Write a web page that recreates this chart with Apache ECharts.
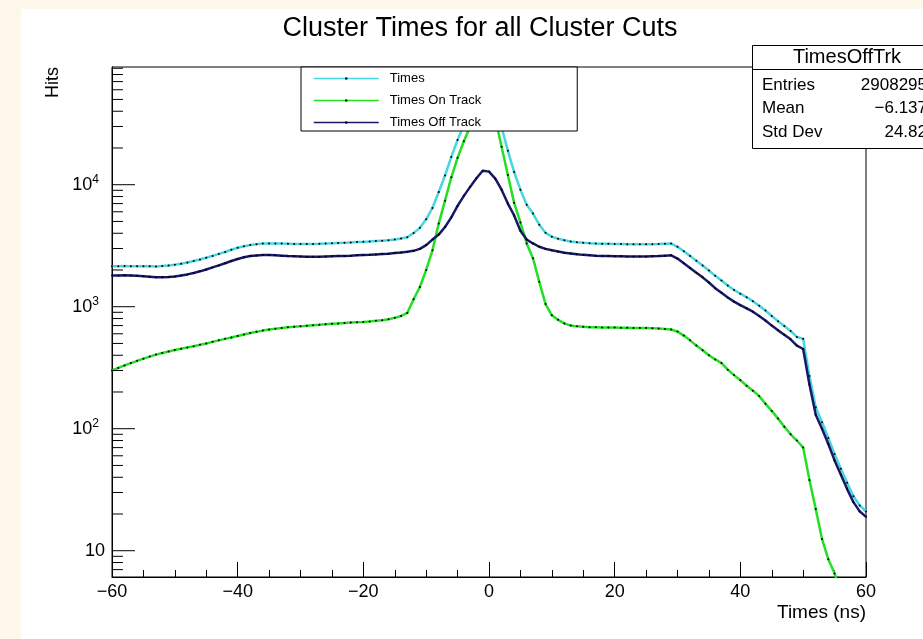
<!DOCTYPE html>
<html>
<head>
<meta charset="utf-8">
<title>Cluster Times for all Cluster Cuts</title>
<script src="https://cdn.jsdelivr.net/npm/echarts@6/dist/echarts.min.js"></script>
<style>
  html, body { margin: 0; padding: 0; background: #fdf8ea; }
  #sheet { position: absolute; left: 21px; top: 9px; width: 902px; height: 630px; background: #ffffff; }
  #chart { position: absolute; left: 0; top: 0; width: 923px; height: 639px; }
</style>
</head>
<body>
<div id="sheet"></div>
<div id="chart"></div>
<script>
// Bin centres (ns)
const times = [
  -60, -59, -58, -57, -56, -55, -54, -53, -52, -51,
  -50, -49, -48, -47, -46, -45, -44, -43, -42, -41,
  -40, -39, -38, -37, -36, -35, -34, -33, -32, -31,
  -30, -29, -28, -27, -26, -25, -24, -23, -22, -21,
  -20, -19, -18, -17, -16, -15, -14, -13, -12, -11,
  -10, -9, -8, -7, -6, -5, -4, -3, -2, -1,
  0, 1, 2, 3, 4, 5, 6, 7, 8, 9,
  10, 11, 12, 13, 14, 15, 16, 17, 18, 19,
  20, 21, 22, 23, 24, 25, 26, 27, 28, 29,
  30, 31, 32, 33, 34, 35, 36, 37, 38, 39,
  40, 41, 42, 43, 44, 45, 46, 47, 48, 49,
  50, 51, 52, 53, 54, 55, 56, 57, 58, 59,
  60
];

// All clusters
const hitsAll = [
  2150, 2150, 2160, 2150, 2150, 2150, 2150, 2140, 2160, 2180,
  2210, 2250, 2300, 2370, 2440, 2520, 2610, 2710, 2810, 2930,
  3040, 3130, 3210, 3250, 3290, 3300, 3300, 3290, 3280, 3270,
  3270, 3270, 3270, 3280, 3300, 3310, 3330, 3350, 3360, 3390,
  3400, 3420, 3450, 3480, 3510, 3560, 3620, 3710, 4020, 4430,
  5200, 6450, 8700, 11900, 16900, 23300, 30800, 39600, 50300, 59900,
  58800, 46300, 29600, 19000, 12700, 9100, 6850, 5800, 4700, 4030,
  3750, 3610, 3500, 3430, 3380, 3345, 3320, 3300, 3285, 3275,
  3265, 3260, 3250, 3250, 3250, 3250, 3255, 3260, 3280, 3290,
  3100, 2850, 2610, 2380, 2180, 1980, 1790, 1640, 1490, 1370,
  1280, 1195, 1110, 1020, 930, 840, 760, 695, 632, 565,
  545, 270, 150, 113, 84, 62, 47, 36, 28, 23.5,
  21
];

// Clusters on track
const hitsOnTrack = [
  300, 315, 330, 345, 360, 375, 390, 405, 418, 430,
  442, 453, 464, 475, 487, 500, 515, 530, 545, 560,
  575, 592, 608, 623, 637, 650, 660, 670, 678, 685,
  690, 697, 704, 711, 718, 724, 730, 736, 741, 746,
  751, 758, 766, 776, 790, 810, 840, 890, 1150, 1450,
  2000, 2900, 4800, 7400, 11500, 16600, 22700, 30000, 39000, 47000,
  46000, 35000, 20500, 12000, 7100, 4900, 3300, 2500, 1600, 1050,
  850, 780, 730, 700, 690, 685, 680, 678, 676, 675,
  674, 672, 671, 670, 670, 668, 665, 662, 658, 650,
  625, 580, 530, 480, 440, 400, 370, 345, 305, 275,
  250, 225, 205, 185, 160, 140, 121, 104, 90, 80,
  70, 38, 22, 12.5, 8.5, 6.5, 4.5, 3.5, 3, 2.5,
  2
];

// Clusters off track
const hitsOffTrack = [
  1800, 1800, 1810, 1800, 1790, 1780, 1760, 1740, 1740, 1750,
  1770, 1800, 1840, 1890, 1950, 2020, 2100, 2180, 2270, 2370,
  2460, 2540, 2600, 2630, 2650, 2650, 2640, 2620, 2600, 2590,
  2580, 2570, 2570, 2570, 2580, 2590, 2600, 2610, 2620, 2640,
  2650, 2660, 2680, 2700, 2720, 2750, 2780, 2820, 2870, 2980,
  3200, 3550, 3900, 4500, 5400, 6700, 8100, 9600, 11300, 13000,
  12800, 11200, 9100, 7000, 5600, 4200, 3550, 3300, 3100, 2980,
  2900, 2830, 2770, 2730, 2690, 2660, 2640, 2620, 2610, 2600,
  2590, 2590, 2580, 2580, 2580, 2580, 2590, 2600, 2620, 2640,
  2480, 2270, 2080, 1900, 1740, 1580, 1420, 1300, 1190, 1100,
  1030, 970, 910, 840, 770, 700, 640, 590, 540, 480,
  450, 230, 130, 100, 75, 55, 42, 32, 25, 21,
  19
];

const seriesNames = ['Times', 'Times On Track', 'Times Off Track'];
const seriesColors = ['#45d6e0', '#22e022', '#18186a'];

// Axis ranges and labels
const xMin = -60, xMax = 60, xStep = 20;
const yMin = 6.09, yMax = 92200;
const yDecades = [10, 100, 1000, 10000];
const yDecadeExponents = ['', '2', '3', '4'];

// Statistics box
const statsTitle = 'TimesOffTrk';
const statsLabels = ['Entries', 'Mean', 'Std Dev'];
const statsValues = ['2908295', '\u22126.137', '24.82'];

const FONT = '"Liberation Sans", Arial, Helvetica, sans-serif';

// Log-axis tick marks at 2..9 x 10^k plus the decades themselves
const yTickMarks = [];
for (let e = 0; e <= 5; e++) {
  for (let m = 1; m <= 9; m++) {
    const v = m * Math.pow(10, e);
    if (v >= yMin && v <= yMax) yTickMarks.push([xMin, v, m === 1 ? 1 : 0]);
  }
}

function pairs(values) {
  return times.map((t, i) => [t, values[i]]);
}

function histSeries(name, values, color, z) {
  return {
    name: name,
    type: 'line',
    data: pairs(values),
    symbol: 'circle',
    symbolSize: 2,
    showSymbol: true,
    showAllSymbol: true,
    itemStyle: { color: '#000' },
    lineStyle: { color: color, width: 2.5 },
    clip: true,
    z: z,
    silent: true,
    animation: false
  };
}

const chart = echarts.init(document.getElementById('chart'), null, { renderer: 'canvas' });

const statsChildren = [
  { type: 'rect', shape: { x: 752.5, y: 45.5, width: 190, height: 103 },
    style: { fill: '#fff', stroke: '#000', lineWidth: 1 } },
  { type: 'line', shape: { x1: 752.5, y1: 69.5, x2: 943, y2: 69.5 },
    style: { stroke: '#000', lineWidth: 1 } },
  { type: 'text', x: 847, y: 57.5,
    style: { text: statsTitle, font: '20px ' + FONT, fill: '#000', align: 'center', verticalAlign: 'middle' } }
];
statsLabels.forEach((lab, i) => {
  const y = 85 + i * 23.5;
  statsChildren.push({ type: 'text', x: 762, y: y,
    style: { text: lab, font: '17px ' + FONT, fill: '#000', align: 'left', verticalAlign: 'middle' } });
  statsChildren.push({ type: 'text', x: 927, y: y,
    style: { text: statsValues[i], font: '17px ' + FONT, fill: '#000', align: 'right', verticalAlign: 'middle' } });
});

chart.setOption({
  animation: false,
  backgroundColor: 'transparent',
  textStyle: { fontFamily: FONT },
  title: {
    text: 'Cluster Times for all Cluster Cuts',
    left: 475,
    top: 10,
    textAlign: 'center',
    textStyle: { fontFamily: FONT, fontSize: 27, fontWeight: 'normal', color: '#000' }
  },
  legend: {
    data: seriesNames,
    orient: 'vertical',
    left: 301,
    top: 67,
    padding: [5, 96, 2, 12],
    itemWidth: 65,
    itemHeight: 3,
    itemGap: 9,
    backgroundColor: '#fff',
    borderColor: '#000',
    borderWidth: 1,
    borderRadius: 0,
    selectedMode: false,
    lineStyle: { width: 1.5 },
    textStyle: { fontFamily: FONT, fontSize: 13, color: '#000', padding: [0, 0, 0, 6] },
    z: 20
  },
  grid: {
    left: 112, top: 67, right: 57, bottom: 62,
    show: true, borderColor: '#000', borderWidth: 1, backgroundColor: 'transparent',
    containLabel: false
  },
  xAxis: {
    type: 'value',
    min: xMin, max: xMax, interval: xStep,
    axisLine: { show: true, onZero: false, lineStyle: { color: '#000', width: 1 } },
    axisTick: { show: true, inside: true, length: 15, lineStyle: { color: '#000', width: 1 } },
    minorTick: { show: true, splitNumber: 4, length: 7, lineStyle: { color: '#000', width: 1 } },
    splitLine: { show: false },
    axisLabel: {
      color: '#000', fontSize: 18, fontFamily: FONT, margin: 6,
      formatter: v => (v < 0 ? '\u2212' + Math.abs(v) : String(v))
    },
    name: 'Times (ns)',
    nameLocation: 'end',
    nameGap: 0,
    nameTextStyle: { color: '#000', fontSize: 19, fontFamily: FONT, align: 'right', verticalAlign: 'top', padding: [26, 0, 0, 0] }
  },
  yAxis: {
    type: 'log',
    logBase: 10,
    min: yMin, max: yMax,
    axisLine: { show: true, onZero: false, lineStyle: { color: '#000', width: 1 } },
    axisTick: { show: false },
    minorTick: { show: false },
    splitLine: { show: false },
    axisLabel: {
      color: '#000', fontSize: 18, fontFamily: FONT, margin: 7,
      formatter: function (v) {
        const k = yDecades.findIndex(d => Math.abs(Math.log10(v) - Math.log10(d)) < 1e-6);
        if (k < 0) return '';
        return yDecadeExponents[k] ? '{b|10}{s|' + yDecadeExponents[k] + '}' : '{b|10}';
      },
      rich: {
        b: { fontSize: 18, fontFamily: FONT, color: '#000' },
        s: { fontSize: 12, fontFamily: FONT, color: '#000', verticalAlign: 'top', padding: [0, 6, 10, 0] }
      }
    }
  },
  graphic: {
    elements: [
      { type: 'text', x: 53, y: 67, rotation: Math.PI / 2, z: 10,
        style: { text: 'Hits', font: '18px ' + FONT, fill: '#000', align: 'right', verticalAlign: 'middle' } },
      { type: 'group', z: 100, children: statsChildren }
    ]
  },
  series: [
    histSeries(seriesNames[0], hitsAll, seriesColors[0], 3),
    histSeries(seriesNames[1], hitsOnTrack, seriesColors[1], 4),
    histSeries(seriesNames[2], hitsOffTrack, seriesColors[2], 5),
    {
      name: 'yTicks',
      type: 'custom',
      data: yTickMarks,
      silent: true,
      z: 6,
      renderItem: function (params, api) {
        const p = api.coord([api.value(0), api.value(1)]);
        const len = api.value(2) ? 23 : 11;
        return {
          type: 'line',
          shape: { x1: p[0], y1: p[1], x2: p[0] + len, y2: p[1] },
          style: { stroke: '#000', lineWidth: 1 }
        };
      }
    }
  ]
});
</script>
</body>
</html>
